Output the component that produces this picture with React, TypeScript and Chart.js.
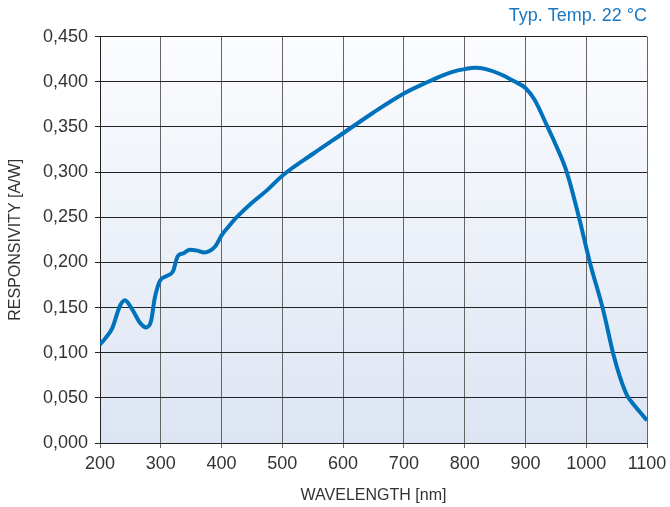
import React, { useEffect, useRef } from "react";
import { Chart, registerables } from "chart.js";

Chart.register(...registerables);

const wavelength = [200, 210, 220, 233, 241, 252, 266, 276, 284, 290, 299, 310, 320, 328, 337, 348, 360, 370, 381, 390, 400, 412, 425, 450, 475, 500, 550, 600, 650, 700, 740, 760, 780, 800, 817, 835, 860, 880, 900, 915, 935, 950, 968, 988, 1006, 1028, 1044, 1056, 1067, 1080, 1090, 1100];
const responsivity = [0.109, 0.117, 0.127, 0.152, 0.158, 0.149, 0.133, 0.128, 0.135, 0.16, 0.18, 0.185, 0.19, 0.207, 0.21, 0.214, 0.213, 0.211, 0.213, 0.218, 0.23, 0.24, 0.25, 0.266, 0.28, 0.296, 0.32, 0.343, 0.366, 0.387, 0.4, 0.406, 0.411, 0.414, 0.4155, 0.414, 0.408, 0.401, 0.393, 0.38, 0.352, 0.33, 0.3, 0.25, 0.2, 0.147, 0.1, 0.072, 0.053, 0.041, 0.033, 0.025];

const titleText = "Typ. Temp. 22 °C";
const xTitle = "WAVELENGTH [nm]";
const yTitle = "RESPONSIVITY [A/W]";

const FONT = "'Liberation Sans', Arial, sans-serif";

const bgPlugin = {
  id: "bgGradient",
  beforeDraw(chart: any) {
    const { ctx, chartArea } = chart;
    if (!chartArea) return;
    const g = ctx.createLinearGradient(0, chartArea.top, 0, chartArea.bottom);
    g.addColorStop(0, "#fbfcfe");
    g.addColorStop(1, "#dde5f3");
    ctx.save();
    ctx.fillStyle = g;
    ctx.fillRect(chartArea.left, chartArea.top, chartArea.right - chartArea.left, chartArea.bottom - chartArea.top);
    ctx.restore();
  },
};

export default function App() {
  const ref = useRef<HTMLCanvasElement>(null);
  useEffect(() => {
    if (!ref.current) return;
    const chart = new Chart(ref.current, {
      type: "line",
      data: {
        datasets: [
          {
            data: wavelength.map((x, i) => ({ x, y: responsivity[i] })),
            borderColor: "#0072bc",
            borderWidth: 4,
            pointRadius: 0,
            cubicInterpolationMode: "monotone",
            fill: false,
          },
        ],
      },
      options: {
        animation: false,
        responsive: false,
        maintainAspectRatio: false,
        layout: { padding: { left: 0, right: 23, top: 0, bottom: 0 } },
        plugins: {
          legend: { display: false },
          tooltip: { enabled: false },
          title: {
            display: true,
            text: titleText,
            align: "end",
            color: "#1a78c2",
            font: { family: FONT, size: 18, weight: "normal" },
            padding: { top: 5, bottom: 10 },
          },
        },
        scales: {
          x: {
            type: "linear",
            min: 200,
            max: 1100,
            afterFit: (s: any) => { s.height = 64; s.paddingRight = 0; s.paddingLeft = 0; },
            ticks: {
              stepSize: 100,
              color: "#333",
              padding: 5,
              font: { family: FONT, size: 18 },
              maxRotation: 0,
              callback: (v: any) => String(v),
            },
            grid: { color: "#666", tickLength: 5, drawTicks: true },
            border: { color: "#222", width: 1 },
            title: { display: true, text: xTitle, color: "#333", font: { family: FONT, size: 16 }, padding: { top: 0, bottom: 2 } },
          },
          y: {
            type: "linear",
            min: 0,
            max: 0.45,
            afterFit: (s: any) => { s.width = 100; },
            ticks: {
              stepSize: 0.05,
              color: "#333",
              padding: 7,
              font: { family: FONT, size: 18 },
              callback: (v: any) => Number(v).toFixed(3).replace(".", ","),
            },
            grid: { color: "#222", tickLength: 5 },
            border: { color: "#222", width: 1 },
            title: { display: true, text: yTitle, color: "#333", font: { family: FONT, size: 16 }, padding: { top: 6, bottom: 0 } },
          },
        },
      },
      plugins: [bgPlugin],
    });
    return () => chart.destroy();
  }, []);
  return (
    <div style={{ position: "fixed", left: 0, top: 0, width: 670, height: 507, background: "#fff" }}>
      <canvas ref={ref} width={670} height={507} style={{ display: "block" }} />
    </div>
  );
}
